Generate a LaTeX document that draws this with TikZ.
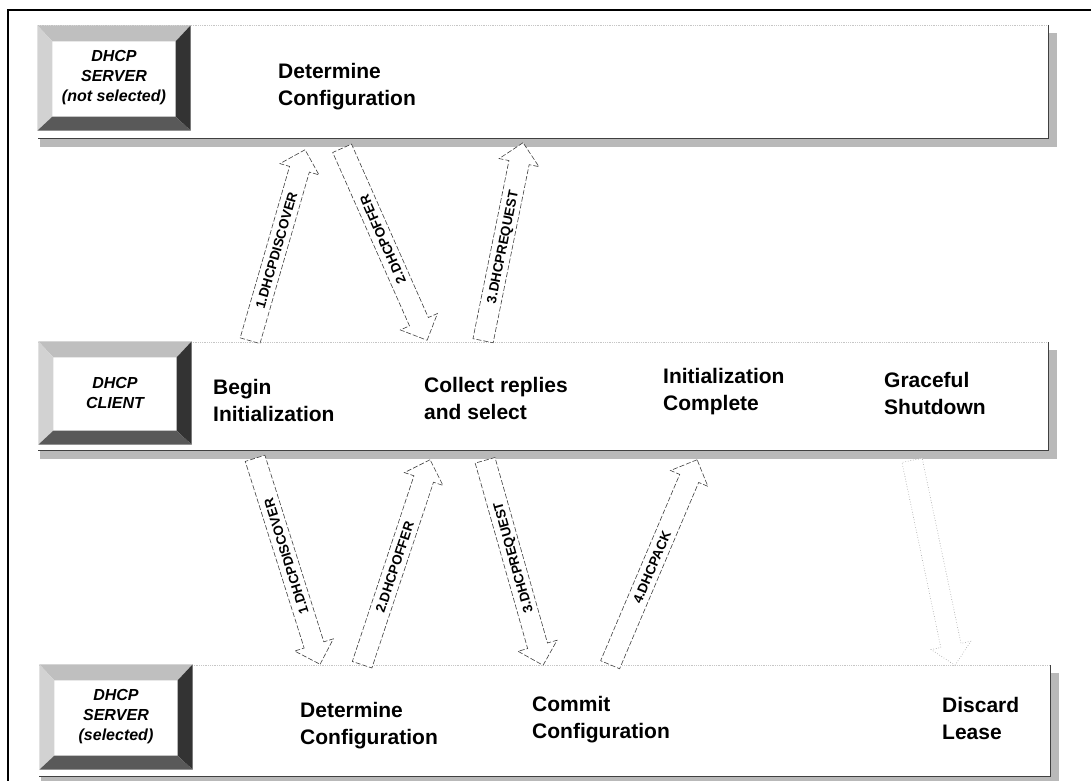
\documentclass[tikz,border=0pt]{standalone}
\usepackage{fontspec}
\setmainfont{Liberation Sans}
\usetikzlibrary{shapes.arrows,calc}

% bevelled frame round a tag box
\newcommand{\bevelframe}[1]{%
  \fill[bevlight] (#1.north west) -- (#1.north east) -- ([shift={(-15,16)}]#1.north east) -- ([shift={(15,16)}]#1.north west) -- cycle;
  \fill[bevmid] (#1.north west) -- ([shift={(15,16)}]#1.north west) -- ([shift={(15,-14)}]#1.south west) -- (#1.south west) -- cycle;
  \fill[bevdark] (#1.north east) -- ([shift={(-15,16)}]#1.north east) -- ([shift={(-15,-14)}]#1.south east) -- (#1.south east) -- cycle;
  \fill[bevdeep] (#1.south west) -- ([shift={(15,-14)}]#1.south west) -- ([shift={(-15,-14)}]#1.south east) -- (#1.south east) -- cycle;
}
% block arrow going up (label reads from tail)
\newcommand{\msgup}[4][msg]{%
  \path let \p1=($(#3)-(#2)$), \n1={atan2(\y1,\x1)}, \n2={veclen(\x1,\y1)} in
    node[#1, rotate=\n1, minimum height=\n2, anchor=tail] at (#2) {#4};}
% block arrow going down (label still reads bottom to top)
\newcommand{\msgdown}[4][msg]{%
  \path let \p1=($(#3)-(#2)$), \n1={atan2(\y1,\x1)+180}, \n2={veclen(\x1,\y1)} in
    node[#1, rotate=\n1, shape border rotate=180, minimum height=\n2, anchor=tail] at (#2) {#4};}

\begin{document}
\begin{tikzpicture}[
    x=1pt, y=-1pt,
    every node/.style={font=\bfseries},
    band/.style={anchor=north west, inner sep=0pt, fill=white},
    bandshade/.style={fill=gray!55},
    bandedge/.style={draw=black!75, line width=0.8pt},
    bandtop/.style={draw=gray!45, densely dotted, line width=0.8pt},
    tagbox/.style={
      minimum width=153, minimum height=105, inner sep=0pt,
      align=center, fill=white,
      font=\bfseries\itshape\fontsize{16}{20}\selectfont
    },
    bevlight/.style={fill=gray!50},
    bevmid/.style={fill=gray!35},
    bevdark/.style={fill=black!80},
    bevdeep/.style={fill=black!65},
    step text/.style={anchor=west, align=left, inner sep=0pt,
      font=\bfseries\fontsize{21}{27}\selectfont},
    msg/.style={
      single arrow, draw=black!75, fill=white,
      dash pattern=on 5pt off 2pt, line width=0.6pt,
      single arrow head extend=10pt,
      text height=10pt, text depth=0pt, inner ysep=5pt, inner xsep=2pt,
      font=\bfseries\fontsize{13.5}{13.5}\selectfont
    },
    msgfaint/.style={msg, draw=black!40, dotted}
  ]
  \useasboundingbox (0,0) rectangle (1091,780);
  \clip (0,0) rectangle (1091,780);

  % Outer frame
  \draw[line width=2.5pt] (8,10) rectangle (1100,790);

  % Bands
  \node[band, minimum width=1010, minimum height=113] (srvA) at (38,25) {};
  \node[band, minimum width=1010, minimum height=108] (cli) at (38,342) {};
  \node[band, minimum width=1011, minimum height=111] (srvB) at (39,665) {};

  \foreach \b in {srvA, cli, srvB} {
    \fill[bandshade] ($(\b.north east)+(0,8)$) rectangle ($(\b.south east)+(9,9)$);
    \fill[bandshade] ($(\b.south west)+(2,0)$) rectangle ($(\b.south east)+(9,9)$);
    \draw[bandtop] (\b.north west) -- (\b.north east);
    \draw[bandedge] (\b.north east) -- (\b.south east) -- (\b.south west);
  }

  % Tag boxes
  \node[tagbox] (srvAtag) at (114,78) {DHCP\\SERVER\\(not selected)};
  \node[tagbox, minimum height=103] (clitag) at (115,393) {DHCP\\CLIENT};
  \node[tagbox] (srvBtag) at (116,717) {DHCP\\SERVER\\(selected)};
  \bevelframe{srvAtag}
  \bevelframe{clitag}
  \bevelframe{srvBtag}

  % Steps
  \node[step text] (detA) at (278,87) {Determine\\Configuration};
  \node[step text] (begin) at (213,400) {Begin\\Initialization};
  \node[step text] (collect) at (424,398) {Collect replies\\and select};
  \node[step text] (initdone) at (663,392) {Initialization\\Complete};
  \node[step text] (shutdown) at (884,393) {Graceful\\Shutdown};
  \node[step text] (detB) at (300,726) {Determine\\Configuration};
  \node[step text] (commit) at (532,720) {Commit\\Configuration};
  \node[step text] (discard) at (942,718) {Discard\\Lease};

  % Arrow ends
  \coordinate (dA1) at (250,341);  \coordinate (dA2) at (305,150);
  \coordinate (oA1) at (342,148);  \coordinate (oA2) at (427,340);
  \coordinate (rA1) at (483,341);  \coordinate (rA2) at (523,143);
  \coordinate (dB1) at (255,458);  \coordinate (dB2) at (320,664);
  \coordinate (oB1) at (362,665);  \coordinate (oB2) at (430,460);
  \coordinate (rB1) at (485,460);  \coordinate (rB2) at (543,665);
  \coordinate (aB1) at (610,665);  \coordinate (aB2) at (697,460);
  \coordinate (sB1) at (912,460);  \coordinate (sB2) at (955,665);

  % Messages -- server not selected
  \msgup{dA1}{dA2}{1.DHCPDISCOVER}
  \msgdown{oA1}{oA2}{2.DHCPOFFER}
  \msgup{rA1}{rA2}{3.DHCPREQUEST}

  % Messages -- selected server
  \msgdown{dB1}{dB2}{1.DHCPDISCOVER}
  \msgup{oB1}{oB2}{2.DHCPOFFER}
  \msgdown{rB1}{rB2}{3.DHCPREQUEST}
  \msgup{aB1}{aB2}{4.DHCPACK}
  \msgdown[msgfaint]{sB1}{sB2}{}

\end{tikzpicture}
\end{document}
